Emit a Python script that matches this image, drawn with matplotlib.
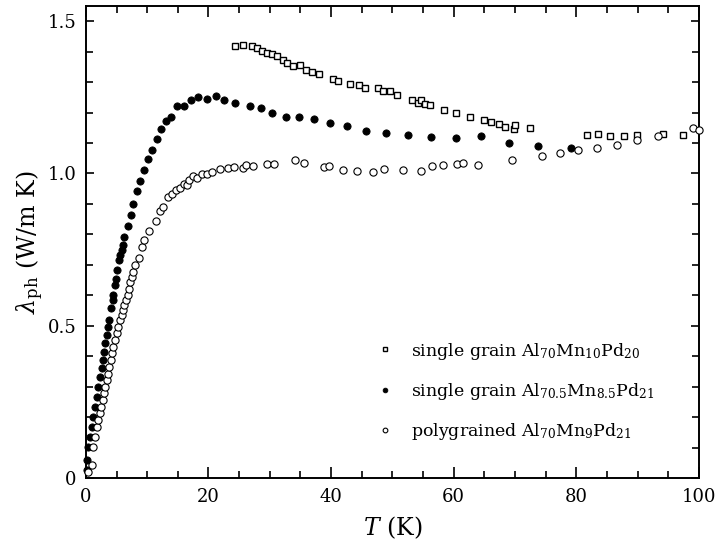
import matplotlib
matplotlib.use("Agg")
import matplotlib.pyplot as plt
from matplotlib.ticker import MultipleLocator, FixedLocator

plt.rcParams['font.family'] = ['DejaVu Serif']
plt.rcParams['mathtext.fontset'] = 'dejavuserif'

# single grain Al70Mn10Pd20 (open squares)
sq_T = [24.31, 25.66, 27.03, 27.85, 28.66, 29.48, 30.29, 31.11, 32.19, 32.84,
        33.72, 34.91, 35.89, 36.92, 38.06, 40.34, 41.16, 43.07, 44.58, 45.51,
        47.68, 48.50, 49.59, 50.69, 53.23, 54.21, 54.60, 55.30, 56.12, 58.45,
        60.31, 62.64, 64.98, 66.07, 67.42, 68.35, 69.82, 69.98, 72.43, 81.68,
        83.57, 85.59, 87.77, 89.84, 94.08, 97.34]
sq_L = [1.420, 1.422, 1.418, 1.411, 1.401, 1.396, 1.393, 1.386, 1.373, 1.364,
        1.354, 1.357, 1.340, 1.334, 1.327, 1.309, 1.305, 1.295, 1.292, 1.281,
        1.280, 1.270, 1.270, 1.258, 1.240, 1.231, 1.242, 1.229, 1.226, 1.209,
        1.200, 1.185, 1.176, 1.169, 1.163, 1.152, 1.147, 1.158, 1.150, 1.125,
        1.128, 1.122, 1.122, 1.125, 1.128, 1.126]

# single grain Al70.5Mn8.5Pd21 (filled circles)
fc_T = [0.11, 0.24, 0.38, 0.65, 0.93, 1.19, 1.47, 1.75, 2.01, 2.28,
        2.56, 2.72, 2.94, 3.15, 3.38, 3.64, 3.80, 4.08, 4.45, 4.45,
        4.68, 4.89, 5.11, 5.43, 5.55, 5.82, 5.99, 6.20, 6.80, 7.29,
        7.72, 8.27, 8.81, 9.46, 10.07, 10.72, 11.53, 12.23, 13.05, 13.87,
        14.89, 15.99, 17.13, 18.32, 19.69, 21.16, 22.51, 24.31, 26.75, 28.50,
        30.39, 32.58, 34.75, 37.19, 39.80, 42.63, 45.68, 48.94, 52.48, 56.28,
        60.31, 64.44, 69.00, 73.69, 79.07]
fc_L = [0.026, 0.059, 0.103, 0.135, 0.168, 0.201, 0.234, 0.267, 0.299, 0.333,
        0.360, 0.387, 0.414, 0.442, 0.469, 0.496, 0.520, 0.557, 0.584, 0.600,
        0.633, 0.655, 0.682, 0.715, 0.731, 0.748, 0.764, 0.791, 0.826, 0.863,
        0.901, 0.942, 0.974, 1.010, 1.049, 1.078, 1.114, 1.145, 1.171, 1.187,
        1.220, 1.222, 1.240, 1.251, 1.245, 1.256, 1.240, 1.231, 1.223, 1.214,
        1.199, 1.187, 1.187, 1.180, 1.167, 1.155, 1.138, 1.133, 1.125, 1.119,
        1.115, 1.122, 1.100, 1.091, 1.085]

# polygrained Al70Mn9Pd21 (open circles)
oc_T = [0.33, 0.93, 1.19, 1.47, 1.75, 2.01, 2.28, 2.50, 2.72, 2.94,
        3.15, 3.38, 3.59, 3.80, 4.03, 4.24, 4.45, 4.73, 5.01, 5.27,
        5.55, 5.82, 5.99, 6.25, 6.48, 6.80, 7.01, 7.18, 7.46, 7.72,
        7.99, 8.65, 9.09, 9.46, 10.33, 11.42, 12.07, 12.61, 13.43, 13.98,
        14.63, 15.33, 16.04, 16.43, 16.85, 17.50, 18.06, 18.87, 19.69, 20.60,
        21.86, 23.21, 24.14, 25.66, 26.05, 27.19, 29.48, 30.67, 34.09, 35.61,
        38.83, 39.69, 41.97, 44.16, 46.87, 48.66, 51.66, 54.65, 56.39, 58.19,
        60.47, 61.45, 63.90, 69.45, 74.44, 77.32, 80.31, 83.31, 86.67, 89.93,
        93.36, 99.07, 100.0]
oc_L = [0.020, 0.043, 0.103, 0.135, 0.168, 0.190, 0.212, 0.234, 0.256, 0.278,
        0.299, 0.321, 0.343, 0.365, 0.387, 0.409, 0.431, 0.453, 0.475, 0.496,
        0.518, 0.535, 0.551, 0.567, 0.584, 0.600, 0.622, 0.644, 0.660, 0.677,
        0.699, 0.724, 0.759, 0.781, 0.811, 0.844, 0.877, 0.890, 0.923, 0.931,
        0.945, 0.953, 0.967, 0.961, 0.977, 0.991, 0.985, 0.997, 0.997, 1.005,
        1.016, 1.019, 1.021, 1.018, 1.029, 1.023, 1.032, 1.030, 1.043, 1.035,
        1.021, 1.024, 1.010, 1.007, 1.005, 1.016, 1.013, 1.009, 1.023, 1.028,
        1.032, 1.036, 1.028, 1.043, 1.056, 1.066, 1.078, 1.082, 1.095, 1.109,
        1.122, 1.149, 1.144]

labels = [r'single grain Al$_{70}$Mn$_{10}$Pd$_{20}$',
          r'single grain Al$_{70.5}$Mn$_{8.5}$Pd$_{21}$',
          r'polygrained Al$_{70}$Mn$_{9}$Pd$_{21}$']

x_major = [0, 20, 40, 60, 80, 100]
y_major = [0, 0.5, 1.0, 1.5]
x_ticklabels = ['0', '20', '40', '60', '80', '100']
y_ticklabels = ['0', '0.5', '1.0', '1.5']

fig = plt.figure(figsize=(7.16, 5.45), dpi=100)
ax = fig.add_axes([0.120, 0.123, 0.856, 0.866])

ax.plot(sq_T, sq_L, linestyle='none', marker='s', ms=4.6, mfc='white',
        mec='black', mew=1.0, label=labels[0], clip_on=False, zorder=3)
ax.plot(fc_T, fc_L, linestyle='none', marker='o', ms=5.2, mfc='black',
        mec='black', mew=0.6, label=labels[1], clip_on=False, zorder=3)
ax.plot(oc_T, oc_L, linestyle='none', marker='o', ms=5.2, mfc='white',
        mec='black', mew=0.8, label=labels[2], clip_on=False, zorder=3)

ax.set_xlim(0, 100)
ax.set_ylim(0, 1.55)

ax.xaxis.set_major_locator(FixedLocator(x_major))
ax.set_xticklabels(x_ticklabels)
ax.xaxis.set_minor_locator(MultipleLocator(5))
ax.yaxis.set_major_locator(FixedLocator(y_major))
ax.set_yticklabels(y_ticklabels)
ax.yaxis.set_minor_locator(MultipleLocator(0.1))

ax.tick_params(which='both', direction='in', top=True, right=True,
               labelsize=13, width=1.2, colors='black')
ax.tick_params(axis='x', which='major', length=8, pad=7)
ax.tick_params(axis='x', which='minor', length=5)
ax.tick_params(axis='y', which='major', length=6, pad=7)
ax.tick_params(axis='y', which='minor', length=5)
for s in ax.spines.values():
    s.set_linewidth(1.4)

ax.set_xlabel(r'$T$ (K)', fontsize=17, labelpad=6)
ax.set_ylabel(r'$\lambda_{\mathrm{ph}}$ (W/m K)', fontsize=17, labelpad=1)

leg = ax.legend(loc='center left', bbox_to_anchor=(0.474, 0.184),
                frameon=False, fontsize=12.5, markerscale=0.65,
                handlelength=1.0, handletextpad=1.0, borderpad=0,
                borderaxespad=0, labelspacing=1.1)

fig.savefig('out.png', dpi=100)
